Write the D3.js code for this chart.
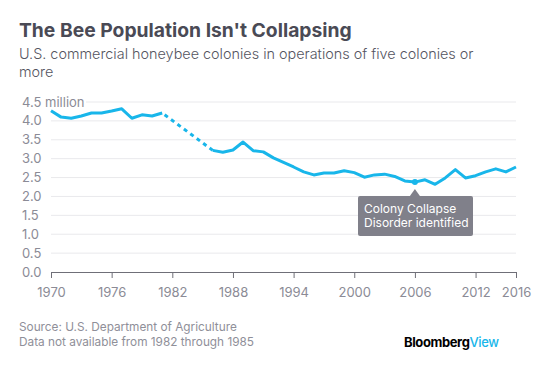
<!DOCTYPE html>
<html>
<head>
<meta charset="utf-8">
<script src="https://cdn.jsdelivr.net/npm/d3@7"></script>
<style>
  body { margin: 0; background: #fff; }
  text { font-family: Inter, "Noto Sans", sans-serif; }
</style>
</head>
<body>
<script>
// colonies, millions
const yearsA = [1970, 1971, 1972, 1973, 1974, 1975, 1976, 1977, 1978, 1979, 1980, 1981];
const valuesA = [4.27, 4.10, 4.07, 4.13, 4.21, 4.21, 4.26, 4.32, 4.07, 4.16, 4.13, 4.21];
const yearsB = [1986, 1987, 1988, 1989, 1990, 1991, 1992, 1993, 1994, 1995, 1996, 1997, 1998, 1999,
  2000, 2001, 2002, 2003, 2004, 2005, 2006, 2007, 2008, 2009, 2010, 2011, 2012, 2013, 2014, 2015, 2016];
const valuesB = [3.22, 3.17, 3.23, 3.44, 3.21, 3.18, 3.02, 2.90, 2.78, 2.65, 2.57, 2.62, 2.62, 2.68,
  2.63, 2.51, 2.57, 2.59, 2.53, 2.41, 2.38, 2.44, 2.32, 2.49, 2.71, 2.49, 2.55, 2.65, 2.73, 2.65, 2.78];
const xTicks = [1970, 1976, 1982, 1988, 1994, 2000, 2006, 2012, 2016];
const yTicks = [0, 0.5, 1, 1.5, 2, 2.5, 3, 3.5, 4, 4.5];
const cddYear = 2006;

const blue = "#18b6ea";
const grey = "#8b8b96";

const svg = d3.select("body")
    .append("svg")
    .attr("width", 557)
    .attr("height", 370);

const x = d3.scaleLinear().domain([1970, 2016]).range([51, 516]);
const y = d3.scaleLinear().domain([0, 4.5]).range([272, 102]);

// headline
svg.append("text")
    .text("The Bee Population Isn't Collapsing")
    .attr("x", 19).attr("y", 37)
    .style("font-size", "19.3px")
    .style("font-weight", "700")
    .attr("fill", "#4a4a55");

svg.append("text")
    .text("U.S. commercial honeybee colonies in operations of five colonies or")
    .attr("x", 19).attr("y", 59)
    .style("font-size", "14.4px")
    .style("font-weight", "300")
    .attr("fill", "#55555f");
svg.append("text")
    .text("more")
    .attr("x", 19).attr("y", 77)
    .style("font-size", "14.4px")
    .style("font-weight", "300")
    .attr("fill", "#55555f");

// grid
svg.selectAll("line.grid")
    .data(yTicks.filter(d => d > 0))
    .enter()
    .append("line")
    .attr("class", "grid")
    .attr("x1", d => d === 4.5 ? 86 : x(1970))
    .attr("x2", x(2016))
    .attr("y1", d => y(d))
    .attr("y2", d => y(d))
    .attr("stroke", "#e9e9ec")
    .attr("stroke-width", 1);

svg.selectAll("text.ylab")
    .data(yTicks)
    .enter()
    .append("text")
    .attr("class", "ylab")
    .text(d => d.toFixed(1) + (d === 4.5 ? " million" : ""))
    .attr("x", 22)
    .attr("y", d => y(d) + 4.5)
    .style("font-size", "13px")
    .attr("fill", grey);

// x axis
const xAxis = svg.append("g")
    .attr("transform", `translate(0,${y(0)})`)
    .call(d3.axisBottom(x).tickValues(xTicks).tickFormat(d3.format("d")).tickSize(6).tickSizeOuter(0));
xAxis.select(".domain").attr("stroke", "#6f6f78");
xAxis.selectAll(".tick line").attr("stroke", "#6f6f78");
xAxis.selectAll(".tick text")
    .attr("dy", "1.25em")
    .style("font-size", "13px")
    .style("font-family", "Inter, sans-serif")
    .attr("fill", grey);

// line
const line = d3.line()
    .x(d => x(d[0]))
    .y(d => y(d[1]));

const partA = yearsA.map((yr, i) => [yr, valuesA[i]]);
const partB = yearsB.map((yr, i) => [yr, valuesB[i]]);
const gap = [partA[partA.length - 1], partB[0]];

svg.append("path")
    .datum(gap)
    .attr("d", line)
    .attr("fill", "none")
    .attr("stroke", blue)
    .attr("stroke-width", 3)
    .attr("stroke-dasharray", "4,4")
    .attr("stroke-dashoffset", -3);

[partA, partB].forEach(part => {
    svg.append("path")
        .datum(part)
        .attr("d", line)
        .attr("fill", "none")
        .attr("stroke", blue)
        .attr("stroke-width", 3)
        .attr("stroke-linejoin", "round");
});

// annotation
const cddVal = valuesB[yearsB.indexOf(cddYear)];
svg.append("circle")
    .attr("cx", x(cddYear))
    .attr("cy", y(cddVal))
    .attr("r", 3)
    .attr("fill", blue);

const bx = 358, by = 196, bw = 115, bh = 40;
const tipX = x(cddYear);
svg.append("path")
    .attr("d", `M${tipX - 5},${by} L${tipX},${y(cddVal) + 7} L${tipX + 5},${by} Z`)
    .attr("fill", "#80808a");
svg.append("rect")
    .attr("x", bx).attr("y", by)
    .attr("width", bw).attr("height", bh)
    .attr("rx", 2)
    .attr("fill", "#80808a");
svg.selectAll("text.note")
    .data(["Colony Collapse", "Disorder identified"])
    .enter()
    .append("text")
    .attr("class", "note")
    .text(d => d)
    .attr("x", bx + 6)
    .attr("y", (d, i) => by + 17 + i * 14)
    .style("font-size", "12px")
    .attr("fill", "#fff");

// footer
svg.append("text")
    .text("Source: U.S. Department of Agriculture")
    .attr("x", 19).attr("y", 331)
    .style("font-size", "11.8px")
    .attr("fill", "#8f8f99");
svg.append("text")
    .text("Data not available from 1982 through 1985")
    .attr("x", 19).attr("y", 346)
    .style("font-size", "11.8px")
    .attr("fill", "#8f8f99");

const logo = svg.append("text")
    .attr("x", 404).attr("y", 347)
    .style("font-size", "13px")
    .style("font-weight", "700")
    .style("letter-spacing", "-0.4px");
logo.append("tspan").text("Bloomberg").attr("fill", "#000");
logo.append("tspan").text("View").attr("fill", blue).style("font-weight", "500");
</script>
</body>
</html>
